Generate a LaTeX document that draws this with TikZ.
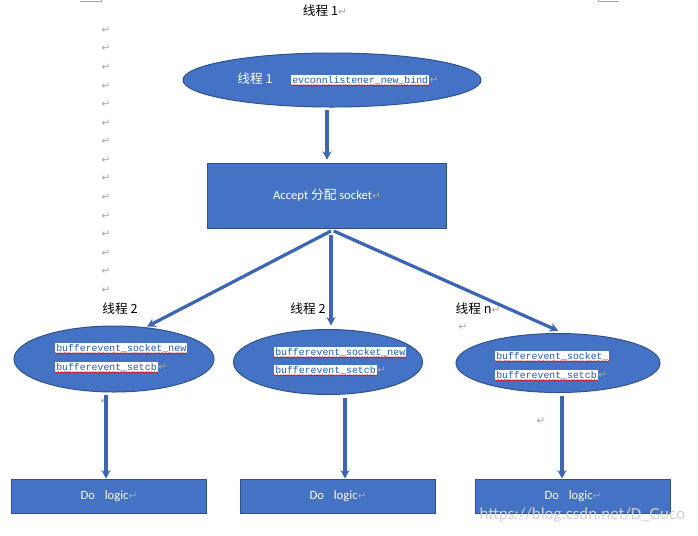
\documentclass[tikz,border=0pt]{standalone}
\usepackage{fontspec}
\setmainfont{Carlito}
\setmonofont{Liberation Mono}
\newfontfamily\cjk{Noto Sans CJK SC}
\newfontfamily\symfont{DejaVu Sans}
\usetikzlibrary{arrows.meta,shapes.geometric,decorations.pathmorphing}
\definecolor{wordblue}{HTML}{4472C4}
\definecolor{wordedge}{HTML}{2F528F}
\definecolor{arrowblue}{HTML}{3C66B4}
\definecolor{codeblue}{HTML}{1F5BB5}
\definecolor{markgray}{HTML}{A6A6A6}
\newcommand{\pmark}{{\symfont\fontsize{7.5}{7.5}\selectfont\color{markgray}↵}}

\tikzset{
  thread/.style={ellipse,draw=wordedge,fill=wordblue,line width=0.7pt,inner sep=0pt},
  block/.style={rectangle,draw=wordedge,fill=wordblue,line width=0.7pt,text=white,
    font=\fontsize{9}{11}\selectfont},
  code/.style={fill=white,text=codeblue,inner sep=0.7pt,anchor=west,
    font=\ttfamily\fontsize{7}{8}\selectfont},
  caption/.style={font=\cjk\fontsize{9}{11}\selectfont},
  pm/.style={inner sep=0pt},
  flow/.style={-{Stealth[length=6pt,width=6.5pt]},line width=2.3pt,draw=arrowblue},
  squig/.style={draw=red,line width=0.4pt,decorate,
    decoration={snake,amplitude=0.5pt,segment length=2pt}}
}

\begin{document}
\begin{tikzpicture}[x=0.025cm,y=-0.025cm]
  \useasboundingbox (0,0) rectangle (698,535);

  % page corner marks
  \draw[gray!70,line width=0.4pt] (80,1.5) -- (101,1.5) -- (101,0);
  \draw[gray!70,line width=0.4pt] (598,0) -- (598,1.5) -- (619,1.5);

  % paragraph marks down the left margin
  \foreach \i in {0,...,14}
    \node[pm] (m\i) at (106,30+18.57*\i) {\pmark};
  \node[pm] (m15) at (105,401) {\pmark};
  \node[pm] (m16) at (463,327) {\pmark};
  \node[pm] (m17) at (541,421) {\pmark};

  \node[caption] (title) at (325,11) {线程 1\pmark};

  % listener thread
  \node[thread,minimum width=7.45cm,minimum height=1.35cm] (e1) at (332,80) {};
  \node[caption,text=white] (e1lab) at (255,79) {线程 1};
  \node[code,label={[pm]right:\pmark}] (c1) at (291,80) {evconnlistener\_new\_bind};
  \draw[squig] (c1.south west) -- (c1.south east);

  \node[block,minimum width=5.95cm,minimum height=1.625cm] (accept) at (327,195.5)
    {Accept {\cjk 分配} socket\pmark};

  \draw[flow,shorten <=2pt,shorten >=2pt] (e1.south -| accept.north) -- (accept.north);

  % worker threads
  \node[caption] (t2a) at (120,309) {线程 2};
  \node[caption] (t2b) at (308,309) {线程 2};
  \node[caption] (tn) at (478,309) {线程 n\pmark};

  \node[thread,minimum width=5cm,minimum height=1.65cm] (e2) at (114,359) {};
  \node[code] (c2a) at (55,348) {bufferevent\_socket\_new};
  \node[code,label={[pm]right:\pmark}] (c2b) at (55,367) {bufferevent\_setcb};
  \draw[squig] (c2a.south west) -- (c2a.south east);
  \draw[squig] (c2b.south west) -- (c2b.south east);

  \node[thread,minimum width=4.725cm,minimum height=1.625cm] (e3) at (328,362) {};
  \node[code] (c3a) at (274,352) {bufferevent\_socket\_new};
  \node[code,label={[pm]right:\pmark}] (c3b) at (274,370) {bufferevent\_setcb};
  \draw[squig] (c3a.south west) -- (c3a.south east);
  \draw[squig] (c3b.south west) -- (c3b.south east);

  \node[thread,minimum width=5.1cm,minimum height=1.475cm] (e4) at (558,363) {};
  \node[code] (c4a) at (495,356) {bufferevent\_socket\_\hspace{4pt}};
  \node[code,label={[pm]right:\pmark}] (c4b) at (495,375) {bufferevent\_setcb};
  \draw[squig] (c4a.south west) -- (c4a.south east);
  \draw[squig] (c4b.south west) -- (c4b.south east);

  \coordinate (fork) at (331,231);
  \draw[flow,shorten >=1pt] (fork) -- (e2.45);
  \draw[flow,shorten >=5.5pt] ([yshift=-3pt]fork) -- ([yshift=-3pt]fork |- e3.north);
  \draw[flow,shorten >=4pt] ([xshift=2pt]fork) -- (e4.80);

  % logic blocks
  \node[block,minimum width=4.85cm,minimum height=0.85cm] (d1) at (109,496) {Do\hspace{7pt}logic\pmark};
  \node[block,minimum width=4.85cm,minimum height=0.85cm] (d2) at (338,496) {Do\hspace{7pt}logic\pmark};
  \node[block,minimum width=4.85cm,minimum height=0.85cm] (d3) at (573,496) {Do\hspace{7pt}logic\pmark};

  \draw[flow,shorten <=2pt] ([xshift=-0.075cm]e2.south -| d1.north) -- ([xshift=-0.075cm]d1.north);
  \draw[flow,shorten <=2pt] ([xshift=0.175cm]e3.south -| d2.north) -- ([xshift=0.175cm]d2.north);
  \draw[flow,shorten <=2pt] ([xshift=-0.275cm]e4.south -| d3.north) -- ([xshift=-0.275cm]d3.north);

  \node[text=gray!35,font=\fontsize{12}{14}\selectfont,anchor=east] (wm) at (690,515)
    {https://blog.csdn.net/D\_Guco};
\end{tikzpicture}
\end{document}
